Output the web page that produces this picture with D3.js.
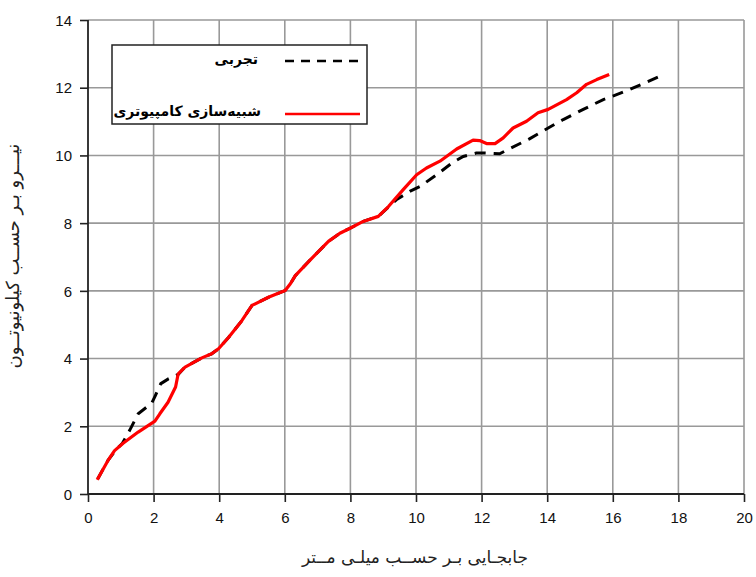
<!DOCTYPE html>
<html><head><meta charset="utf-8">
<script src="https://cdn.jsdelivr.net/npm/d3@7"></script>
<style>body{margin:0;background:#fff}svg{display:block}</style>
</head><body>
<svg id="c" width="756" height="577"></svg>
<script>
const xTicks = [0,2,4,6,8,10,12,14,16,18,20];
const yTicks = [0,2,4,6,8,10,12,14];

const expX = [0.3,0.6,0.85,1.05,1.27,1.53,1.94,2.05,2.22,2.45,2.75,2.96,3.47,3.77,3.98,4.29,4.69,5.0,5.5,6.01,6.17,6.32,6.77,7.33,7.68,7.99,8.39,8.85,9.4,9.81,10.12,10.63,11.13,11.44,11.84,12.09,12.55,12.9,13.46,14.03,14.49,15.1,15.71,16.0,16.52,17.39];
const expY = [0.45,0.98,1.3,1.5,1.88,2.37,2.68,2.9,3.26,3.40,3.53,3.75,4.02,4.14,4.29,4.63,5.12,5.57,5.81,6.01,6.21,6.45,6.91,7.46,7.70,7.85,8.05,8.2,8.69,8.94,9.08,9.43,9.80,9.97,10.07,10.07,10.05,10.22,10.49,10.81,11.06,11.36,11.65,11.75,11.95,12.32];

const simX = [0.28,0.61,0.81,1.07,1.53,2.04,2.19,2.44,2.67,2.75,2.96,3.47,3.77,3.98,4.29,4.69,5.0,5.5,6.01,6.17,6.32,6.77,7.33,7.68,7.99,8.39,8.85,9.16,9.61,10.02,10.32,10.73,11.24,11.74,11.94,12.15,12.41,12.66,12.96,13.37,13.72,14.03,14.59,14.9,15.2,15.51,15.89];
const simY = [0.42,0.99,1.28,1.50,1.83,2.15,2.37,2.71,3.16,3.55,3.75,4.02,4.14,4.29,4.63,5.12,5.57,5.81,6.01,6.21,6.45,6.91,7.46,7.70,7.85,8.05,8.20,8.49,8.99,9.43,9.63,9.83,10.19,10.45,10.44,10.35,10.35,10.52,10.81,11.01,11.26,11.36,11.65,11.85,12.10,12.24,12.39];

const seriesNames = ["تجربی", "شبیه\u200cسازی کامپیوتری"];
const xTitle = "جابجـایی بـر حســب میلـی مــتر";
const yTitle = "نیـــرو بـر حســب کیلونیوتــون";

const svg = d3.select("#c");
const L = 88, R = 744, T = 20, B = 494;
const x = d3.scaleLinear().domain([0,20]).range([L,R]);
const y = d3.scaleLinear().domain([0,14]).range([B,T]);
const font = "'Liberation Sans', Arial, sans-serif";
const fa = "'DejaVu Sans', sans-serif";

// grid
const g = svg.append("g");
g.selectAll("line.vx").data(xTicks.slice(1)).join("line")
  .attr("x1", d=>x(d)).attr("x2", d=>x(d)).attr("y1", T).attr("y2", B)
  .attr("stroke", "#999").attr("stroke-width", 1.6);
g.selectAll("line.hy").data(yTicks.slice(1)).join("line")
  .attr("x1", L).attr("x2", R).attr("y1", d=>y(d)).attr("y2", d=>y(d))
  .attr("stroke", "#999").attr("stroke-width", 1.6);

// axes
const xAxis = d3.axisBottom(x).tickValues(xTicks).tickSize(8).tickPadding(10).tickFormat(d3.format("d"));
const yAxis = d3.axisLeft(y).tickValues(yTicks).tickSize(8).tickPadding(8).tickFormat(d3.format("d"));
const gx = svg.append("g").attr("transform", `translate(0,${B})`).call(xAxis);
const gy = svg.append("g").attr("transform", `translate(${L},0)`).call(yAxis);
[gx, gy].forEach(a => {
  a.select(".domain").remove();
  a.selectAll(".tick line").attr("stroke", "#222").attr("stroke-width", 1.6);
  a.selectAll(".tick text").attr("fill", "#111").style("font-family", font).style("font-size", "15px");
});
gy.selectAll(".tick text").attr("dy", "0.35em");
svg.append("line").attr("x1", L).attr("x2", R).attr("y1", B).attr("y2", B).attr("stroke", "#222").attr("stroke-width", 1.8);
svg.append("line").attr("x1", L).attr("x2", L).attr("y1", T).attr("y2", B).attr("stroke", "#222").attr("stroke-width", 1.8);

// lines
const line = d3.line().x(d=>x(d[0])).y(d=>y(d[1]));
svg.append("path").datum(expX.map((v,i)=>[v, expY[i]]))
  .attr("d", line).attr("fill", "none").attr("stroke", "#000")
  .attr("stroke-width", 3).attr("stroke-dasharray", "11,8");
svg.append("path").datum(simX.map((v,i)=>[v, simY[i]]))
  .attr("d", line).attr("fill", "none").attr("stroke", "#ff0000")
  .attr("stroke-width", 3.2).attr("stroke-linejoin", "round");

// legend
const lg = svg.append("g");
lg.append("rect").attr("x", 112).attr("y", 45).attr("width", 255).attr("height", 79)
  .attr("fill", "#fff").attr("stroke", "#222").attr("stroke-width", 1.5);
lg.append("line").attr("x1", 285).attr("x2", 360).attr("y1", 61).attr("y2", 61)
  .attr("stroke", "#000").attr("stroke-width", 2.5).attr("stroke-dasharray", "9,7");
lg.append("line").attr("x1", 285).attr("x2", 360).attr("y1", 114).attr("y2", 114)
  .attr("stroke", "#ff0000").attr("stroke-width", 2.5);
lg.append("text").attr("x", 258).attr("y", 64).attr("text-anchor", "start").attr("direction", "rtl")
  .style("font-family", fa).style("font-weight", "bold").style("font-size", "14px").text(seriesNames[0]);
lg.append("text").attr("x", 261).attr("y", 116).attr("text-anchor", "start").attr("direction", "rtl")
  .style("font-family", fa).style("font-weight", "bold").style("font-size", "14px").text(seriesNames[1]);

// titles
svg.append("text").attr("x", 415).attr("y", 563).attr("text-anchor", "middle")
  .style("font-family", fa).style("font-size", "17px").attr("fill", "#222").text(xTitle);
svg.append("text").attr("transform", "translate(19,256) rotate(-90)").attr("text-anchor", "middle")
  .style("font-family", fa).style("font-size", "18px").attr("fill", "#222").text(yTitle);
</script>
</body></html>
